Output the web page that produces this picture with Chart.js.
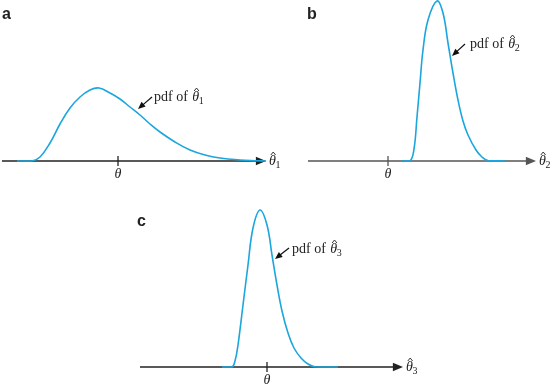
<!DOCTYPE html>
<html>
<head>
<meta charset="utf-8">
<script src="https://cdn.jsdelivr.net/npm/chart.js@4"></script>
<style>
  html, body { margin: 0; padding: 0; background: #fff; }
  #wrap { position: relative; width: 550px; height: 387px; overflow: hidden; }
  canvas { position: absolute; }
</style>
</head>
<body>
<div id="wrap">
  <canvas id="chartA" width="300" height="190" style="left:0px;top:0px"></canvas>
  <canvas id="chartB" width="270" height="190" style="left:280px;top:0px"></canvas>
  <canvas id="chartC" width="310" height="187" style="left:120px;top:200px"></canvas>
</div>
<script>
// panel letters and estimator subscripts
var panelNames = ['a', 'b', 'c'];
var estSubs = ['1', '2', '3'];

// estimator values (theta sits at 0) and pdf heights
var xA = [-5.05, -4.3, -3.9, -3.4, -2.9, -2.4, -1.9, -1.4, -0.95, -0.4, 0.1, 0.6, 1.1, 1.6, 2.1, 2.85, 3.6, 4.35, 5.1, 6.1, 6.85, 7.4];
var pdfA = [0, 0, 0.04, 0.18, 0.37, 0.53, 0.64, 0.71, 0.73, 0.68, 0.62, 0.54, 0.46, 0.37, 0.29, 0.19, 0.11, 0.06, 0.03, 0.01, 0.003, 0];

var xB = [0.7, 1.1, 1.3, 1.45, 1.6, 1.75, 2.0, 2.45, 2.75, 3.0, 3.25, 3.5, 3.75, 4.0, 4.4, 4.7, 5.0, 5.85];
var pdfB = [0, 0, 0.12, 0.44, 0.78, 1.11, 1.41, 1.60, 1.48, 1.18, 0.88, 0.61, 0.40, 0.26, 0.11, 0.04, 0.005, 0];

var xC = [-2.25, -1.75, -1.6, -1.45, -1.2, -0.95, -0.7, -0.35, 0, 0.25, 0.5, 0.75, 1.05, 1.35, 1.7, 2.05, 2.4, 3.55];
var pdfC = [0, 0, 0.06, 0.22, 0.62, 1.02, 1.39, 1.57, 1.42, 1.12, 0.82, 0.56, 0.34, 0.19, 0.09, 0.03, 0.003, 0];

// axis extent for each panel
var axisMin = [-5.8, -4.0, -6.35];
var axisMax = [7.4, 7.4, 6.8];
var thetaTick = 0;

var curveColor = '#1ba6dd';
var serif = '"Liberation Serif", "Times New Roman", serif';

function drawThetaHat(ctx, x, base, sub, size) {
  ctx.save();
  ctx.fillStyle = '#222';
  ctx.strokeStyle = '#222';
  ctx.textAlign = 'left';
  ctx.textBaseline = 'alphabetic';
  ctx.font = 'italic ' + size + 'px ' + serif;
  ctx.fillText('\u03b8', x, base);
  var w = ctx.measureText('\u03b8').width;
  // the hat
  ctx.lineWidth = 0.9;
  ctx.beginPath();
  ctx.moveTo(x + 1.8, base - 10);
  ctx.lineTo(x + 4.2, base - 13);
  ctx.lineTo(x + 6.6, base - 10);
  ctx.stroke();
  if (sub) {
    ctx.font = Math.round(size * 0.68) + 'px ' + serif;
    ctx.fillText(sub, x + w - 0.5, base + 3);
  }
  ctx.restore();
}

function arrow(ctx, x1, y1, x2, y2, head, color, lw) {
  var a = Math.atan2(y2 - y1, x2 - x1);
  ctx.save();
  ctx.strokeStyle = color;
  ctx.fillStyle = color;
  ctx.lineWidth = lw;
  ctx.beginPath();
  ctx.moveTo(x1, y1);
  ctx.lineTo(x2 - Math.cos(a) * head * 0.8, y2 - Math.sin(a) * head * 0.8);
  ctx.stroke();
  ctx.beginPath();
  ctx.moveTo(x2, y2);
  ctx.lineTo(x2 - head * Math.cos(a - 0.4), y2 - head * Math.sin(a - 0.4));
  ctx.lineTo(x2 - head * Math.cos(a + 0.4), y2 - head * Math.sin(a + 0.4));
  ctx.closePath();
  ctx.fill();
  ctx.restore();
}

// axis, tick, labels and callout, all placed from the chart's scales
function decor(i, o) {
  return {
    id: 'decor' + i,
    beforeDatasetsDraw: function (chart) {
      var ctx = chart.ctx;
      var xs = chart.scales.x, ys = chart.scales.y;
      var y0 = ys.getPixelForValue(0);
      var left = xs.getPixelForValue(axisMin[i]);
      var right = xs.getPixelForValue(axisMax[i]);
      arrow(ctx, left, y0, right, y0, 11, o.axisColor, 1.5);
      var tx = xs.getPixelForValue(thetaTick);
      ctx.save();
      ctx.strokeStyle = o.axisColor;
      ctx.lineWidth = 1.3;
      ctx.beginPath();
      ctx.moveTo(tx, y0 - 5);
      ctx.lineTo(tx, y0 + 5);
      ctx.stroke();
      ctx.restore();
    },
    afterDraw: function (chart) {
      var ctx = chart.ctx;
      var xs = chart.scales.x, ys = chart.scales.y;
      var y0 = ys.getPixelForValue(0);
      var tx = xs.getPixelForValue(thetaTick);
      var right = xs.getPixelForValue(axisMax[i]);
      ctx.save();
      ctx.fillStyle = '#222';
      ctx.textAlign = 'center';
      ctx.textBaseline = 'alphabetic';
      ctx.font = 'italic 14px ' + serif;
      ctx.fillText('\u03b8', tx, y0 + 17);
      // panel letter
      ctx.font = 'bold 16px "Liberation Sans", Arial, sans-serif';
      ctx.textAlign = 'left';
      ctx.fillText(panelNames[i], o.letter[0], o.letter[1]);
      ctx.restore();
      drawThetaHat(ctx, right + 3, y0 + 4, estSubs[i], 14);
      // callout
      arrow(ctx, o.callTail[0], o.callTail[1], o.callHead[0], o.callHead[1], 8, '#111', 1.2);
      ctx.save();
      ctx.fillStyle = '#222';
      ctx.font = '14px ' + serif;
      ctx.textAlign = 'left';
      ctx.fillText('pdf of', o.text[0], o.text[1]);
      var w = ctx.measureText('pdf of ').width;
      ctx.restore();
      drawThetaHat(ctx, o.text[0] + w + 1, o.text[1], estSubs[i], 14);
    }
  };
}

function makeChart(id, i, xs, ys, yMax, pad, o) {
  var pts = xs.map(function (v, k) { return { x: v, y: ys[k] }; });
  return new Chart(document.getElementById(id).getContext('2d'), {
    type: 'line',
    data: {
      datasets: [{
        data: pts,
        borderColor: curveColor,
        borderWidth: 1.6,
        pointRadius: 0,
        fill: false,
        tension: 0.4,
        clip: false
      }]
    },
    options: {
      responsive: false,
      animation: false,
      layout: { padding: pad },
      plugins: { legend: { display: false }, tooltip: { enabled: false } },
      scales: {
        x: { type: 'linear', min: axisMin[i], max: axisMax[i], display: false },
        y: { min: 0, max: yMax, display: false }
      }
    },
    plugins: [decor(i, o)]
  });
}

makeChart('chartA', 0, xA, pdfA, 1.61, { left: 2, right: 34, top: 0, bottom: 29 }, {
  axisColor: '#222', letter: [2, 19], callTail: [152, 97], callHead: [138, 109], text: [154, 101]
});
makeChart('chartB', 1, xB, pdfB, 1.61, { left: 28, right: 14, top: 0, bottom: 29 }, {
  axisColor: '#555', letter: [27, 19], callTail: [185, 44], callHead: [172, 56], text: [190, 48]
});
makeChart('chartC', 2, xC, pdfC, 1.67, { left: 20, right: 27, top: 0, bottom: 20 }, {
  axisColor: '#222', letter: [17, 26], callTail: [169, 48], callHead: [155, 59], text: [172, 53]
});
</script>
</body>
</html>
